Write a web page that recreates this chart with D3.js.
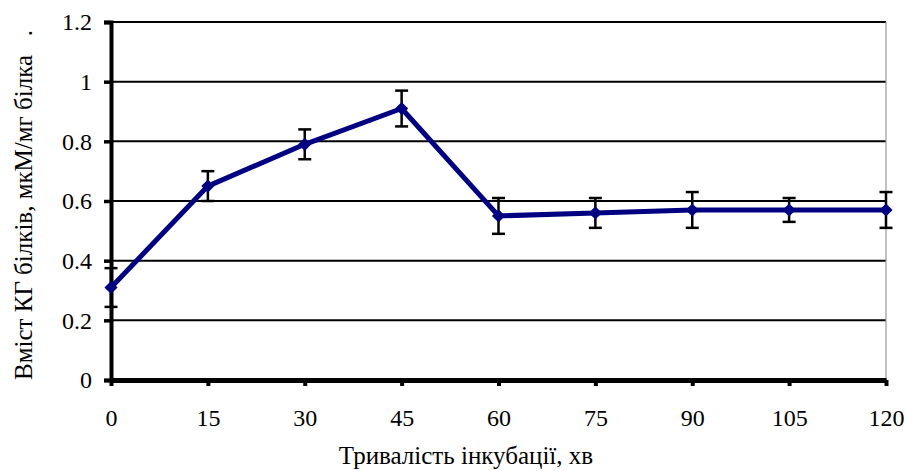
<!DOCTYPE html>
<html lang="uk">
<head>
<meta charset="UTF-8">
<script src="https://cdn.jsdelivr.net/npm/d3@7"></script>
<style>
  body { margin: 0; background: #fff; }
</style>
</head>
<body>
<div id="chart"></div>
<script>
// data
const minutes = [0, 15, 30, 45, 60, 75, 90, 105, 120];
const values = [0.31, 0.65, 0.79, 0.91, 0.55, 0.56, 0.57, 0.57, 0.57];
const errors = [0.065, 0.05, 0.05, 0.06, 0.06, 0.05, 0.06, 0.04, 0.06];
const yTicks = [0, 0.2, 0.4, 0.6, 0.8, 1, 1.2];

const FONT = '"Liberation Serif", "Times New Roman", serif';

const width = 906, height = 471;
const margin = { top: 22, right: 20, bottom: 91, left: 111 };

const svg = d3.select('#chart').append('svg')
  .attr('width', width)
  .attr('height', height);

const x = d3.scaleLinear().domain([0, 120]).range([margin.left, width - margin.right]);
const y = d3.scaleLinear().domain([0, 1.2]).range([height - margin.bottom, margin.top]);

// gridlines
svg.append('g')
  .selectAll('line')
  .data(yTicks.filter(d => d > 0))
  .enter().append('line')
  .attr('x1', x(0)).attr('x2', x(120))
  .attr('y1', d => y(d)).attr('y2', d => y(d))
  .attr('stroke', '#000')
  .attr('stroke-width', 2);

// right border
svg.append('line')
  .attr('x1', x(120)).attr('x2', x(120))
  .attr('y1', y(1.2)).attr('y2', y(0))
  .attr('stroke', '#999')
  .attr('stroke-width', 1.2);

// y axis
const yAxis = svg.append('g')
  .attr('transform', `translate(${x(0)},0)`)
  .call(d3.axisLeft(y).tickValues(yTicks).tickSize(7).tickPadding(12)
    .tickFormat(d => d === 0 || d === 1 ? d3.format('d')(d) : d3.format('.1f')(d)));
yAxis.select('.domain').attr('stroke-width', 4);
yAxis.selectAll('.tick line').attr('stroke-width', 3.5);
yAxis.selectAll('.tick text')
  .style('font-family', FONT).style('font-size', '24px');

// x axis
const xAxis = svg.append('g')
  .attr('transform', `translate(0,${y(0)})`)
  .call(d3.axisBottom(x).tickValues(minutes).tickSize(6).tickPadding(23).tickSizeOuter(0));
xAxis.select('.domain').attr('stroke-width', 5);
xAxis.selectAll('.tick line').attr('stroke-width', 4);
xAxis.selectAll('.tick text')
  .style('font-family', FONT).style('font-size', '24px');

const pts = minutes.map((m, i) => ({ m, v: values[i], e: errors[i] }));

// line
svg.append('path')
  .datum(pts)
  .attr('fill', 'none')
  .attr('stroke', '#000080')
  .attr('stroke-width', 5)
  .attr('stroke-linejoin', 'round')
  .attr('d', d3.line().x(d => x(d.m)).y(d => y(d.v)));

// error bars
const eb = svg.append('g').attr('stroke', '#000').attr('stroke-width', 2.5);
pts.forEach(d => {
  eb.append('line').attr('x1', x(d.m)).attr('x2', x(d.m))
    .attr('y1', y(d.v + d.e)).attr('y2', y(d.v - d.e));
  [d.v + d.e, d.v - d.e].forEach(c => {
    eb.append('line').attr('x1', x(d.m) - 6.5).attr('x2', x(d.m) + 6.5)
      .attr('y1', y(c)).attr('y2', y(c));
  });
});

// markers
svg.append('g')
  .selectAll('path')
  .data(pts)
  .enter().append('path')
  .attr('transform', d => `translate(${x(d.m)},${y(d.v)})`)
  .attr('d', d3.symbol(d3.symbolDiamond2, 110))
  .attr('fill', '#000080');

// axis titles
svg.append('text')
  .attr('x', 466)
  .attr('y', 464)
  .attr('text-anchor', 'middle')
  .style('font-family', FONT).style('font-size', '25px')
  .text('Тривалість інкубації, хв');

svg.append('text')
  .attr('transform', 'translate(32,380) rotate(-90)')
  .attr('text-anchor', 'start')
  .style('font-family', FONT).style('font-size', '25px')
  .style('white-space', 'pre')
  .text('Вміст КГ білків, мкМ/мг білка   .');
</script>
</body>
</html>
